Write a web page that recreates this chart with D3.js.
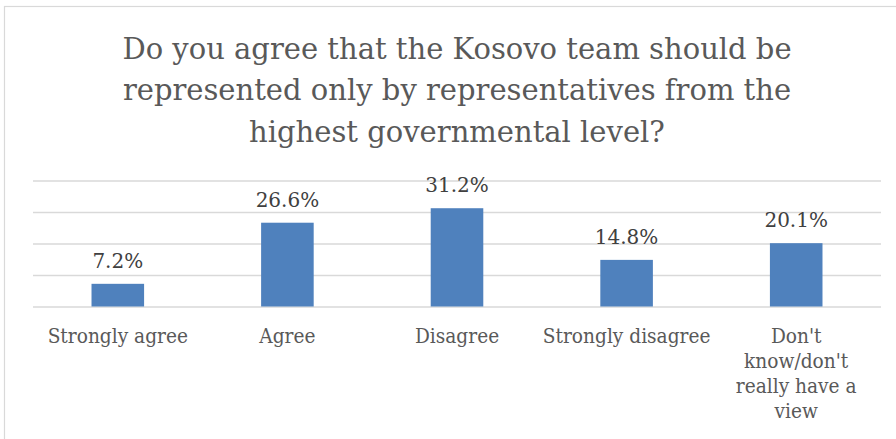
<!DOCTYPE html>
<html>
<head>
<meta charset="utf-8">
<script src="https://cdn.jsdelivr.net/npm/d3@7"></script>
<style>
  html, body { margin: 0; padding: 0; background: #fff; }
  svg { display: block; }
  text { font-family: "DejaVu Serif", "Liberation Serif", serif; }
</style>
</head>
<body>
<svg id="chart" width="896" height="439"></svg>
<script>
// Survey answers
const categories = ["Strongly agree", "Agree", "Disagree", "Strongly disagree", "Don't\nknow/don't\nreally have a\nview"];
const shares = [7.2, 26.6, 31.2, 14.8, 20.1];
const gridTicks = [0, 10, 20, 30, 40];
const titleLines = [
  "Do you agree that the Kosovo team should be",
  "represented only by representatives from the",
  "highest governmental level?"
];

const W = 896, H = 439;
const margin = { top: 180.5, right: 15, bottom: 132.5, left: 33 };
const svg = d3.select("#chart");

// Horizontal squeeze so the serif face runs at a book-face width
function condense(factor) {
  return sel => sel.each(function () {
    if (factor === 1) return;
    const len = this.getComputedTextLength();
    d3.select(this).attr("textLength", len * factor).attr("lengthAdjust", "spacingAndGlyphs");
  });
}

// Chart frame
svg.append("rect")
  .attr("x", 4.5).attr("y", 6.5)
  .attr("width", W + 10).attr("height", H + 10)
  .attr("fill", "#fff").attr("stroke", "#d9d9d9").attr("stroke-width", 1.2);

// Title
const title = svg.append("text")
  .attr("text-anchor", "middle")
  .attr("fill", "#595959")
  .attr("font-size", 29);
title.selectAll("tspan")
  .data(titleLines)
  .join("tspan")
  .attr("x", 457)
  .attr("y", (d, i) => 58.5 + i * 41.5)
  .text(d => d);

const x = d3.scaleBand()
  .domain(categories)
  .range([margin.left, W - margin.right])
  .paddingInner(0.69)
  .paddingOuter(0.345);

const y = d3.scaleLinear()
  .domain([0, 40])
  .range([H - margin.bottom, margin.top]);

// Gridlines
const grid = svg.append("g")
  .attr("transform", `translate(${margin.left},0)`)
  .call(d3.axisLeft(y).tickValues(gridTicks).tickSize(-(W - margin.right - margin.left)).tickFormat(""));
grid.select(".domain").remove();
grid.selectAll(".tick line").attr("stroke", "#d9d9d9").attr("stroke-width", 1.5);

// Bars
svg.append("g")
  .selectAll("rect")
  .data(shares)
  .join("rect")
  .attr("x", (d, i) => x(categories[i]))
  .attr("width", x.bandwidth())
  .attr("y", d => y(d))
  .attr("height", d => y(0) - y(d))
  .attr("fill", "#4f81bd");

// Value labels
svg.append("g")
  .selectAll("text")
  .data(shares)
  .join("text")
  .attr("x", (d, i) => x(categories[i]) + x.bandwidth() / 2)
  .attr("y", d => y(d) - 16)
  .attr("text-anchor", "middle")
  .attr("font-size", 20)
  .attr("fill", "#404040")
  .text(d => d.toFixed(1) + "%");

// Category labels (multi-line where the label is long)
const xAxis = svg.append("g")
  .attr("transform", `translate(0,${y(0)})`)
  .call(d3.axisBottom(x).tickSize(0).tickFormat(""));
xAxis.select(".domain").remove();
xAxis.selectAll(".tick").each(function (d) {
  const t = d3.select(this).append("text")
    .attr("text-anchor", "middle")
    .attr("fill", "#595959")
    .attr("font-size", 21);
  t.selectAll("tspan")
    .data(d.split("\n"))
    .join("tspan")
    .attr("x", 0)
    .attr("y", (s, i) => 36 + i * 25.3)
    .text(s => s)
    .call(condense(0.885));
});
</script>
</body>
</html>
